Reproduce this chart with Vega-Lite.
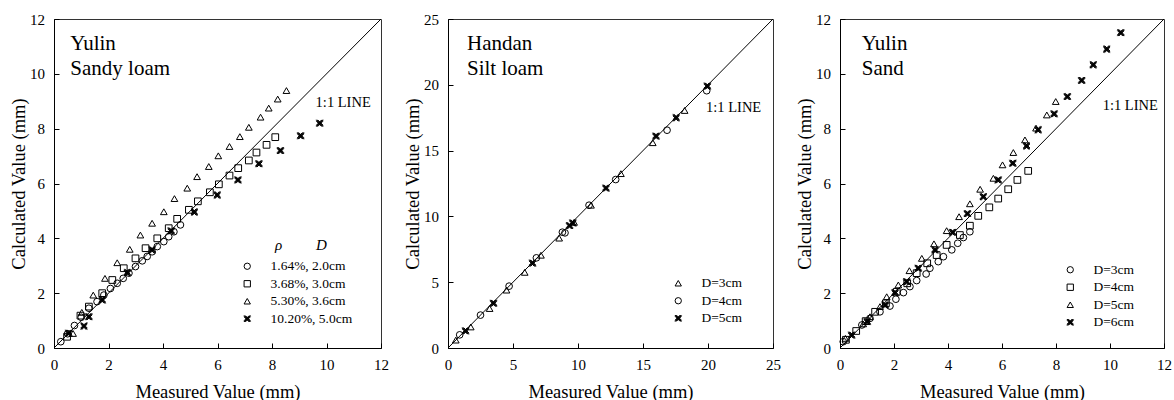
{
  "$schema": "https://vega.github.io/schema/vega-lite/v6.json",
  "padding": {"left": 9, "top": 11, "right": 3, "bottom": 2},
  "background": "white",
  "datasets": {
    "p1": [
      {"series": "1.64%, 2.0cm", "measured": 0.25, "calculated": 0.23},
      {"series": "1.64%, 2.0cm", "measured": 0.5, "calculated": 0.52},
      {"series": "1.64%, 2.0cm", "measured": 0.75, "calculated": 0.82},
      {"series": "1.64%, 2.0cm", "measured": 1.0, "calculated": 1.12},
      {"series": "1.64%, 2.0cm", "measured": 1.28, "calculated": 1.45},
      {"series": "1.64%, 2.0cm", "measured": 1.58, "calculated": 1.69},
      {"series": "1.64%, 2.0cm", "measured": 1.83, "calculated": 1.93},
      {"series": "1.64%, 2.0cm", "measured": 2.07, "calculated": 2.17},
      {"series": "1.64%, 2.0cm", "measured": 2.32, "calculated": 2.36},
      {"series": "1.64%, 2.0cm", "measured": 2.54, "calculated": 2.54},
      {"series": "1.64%, 2.0cm", "measured": 2.75, "calculated": 2.73},
      {"series": "1.64%, 2.0cm", "measured": 2.99, "calculated": 2.97},
      {"series": "1.64%, 2.0cm", "measured": 3.24, "calculated": 3.18},
      {"series": "1.64%, 2.0cm", "measured": 3.42, "calculated": 3.34},
      {"series": "1.64%, 2.0cm", "measured": 3.6, "calculated": 3.51},
      {"series": "1.64%, 2.0cm", "measured": 3.79, "calculated": 3.7},
      {"series": "1.64%, 2.0cm", "measured": 4.03, "calculated": 3.88},
      {"series": "1.64%, 2.0cm", "measured": 4.21, "calculated": 4.06},
      {"series": "1.64%, 2.0cm", "measured": 4.4, "calculated": 4.24},
      {"series": "1.64%, 2.0cm", "measured": 4.64, "calculated": 4.49},
      {"series": "3.68%, 3.0cm", "measured": 0.48, "calculated": 0.41},
      {"series": "3.68%, 3.0cm", "measured": 0.97, "calculated": 1.18},
      {"series": "3.68%, 3.0cm", "measured": 1.28, "calculated": 1.51},
      {"series": "3.68%, 3.0cm", "measured": 1.77, "calculated": 2.0},
      {"series": "3.68%, 3.0cm", "measured": 2.14, "calculated": 2.48},
      {"series": "3.68%, 3.0cm", "measured": 2.56, "calculated": 2.91},
      {"series": "3.68%, 3.0cm", "measured": 2.99, "calculated": 3.27},
      {"series": "3.68%, 3.0cm", "measured": 3.36, "calculated": 3.64},
      {"series": "3.68%, 3.0cm", "measured": 3.79, "calculated": 4.0},
      {"series": "3.68%, 3.0cm", "measured": 4.21, "calculated": 4.37},
      {"series": "3.68%, 3.0cm", "measured": 4.52, "calculated": 4.71},
      {"series": "3.68%, 3.0cm", "measured": 4.95, "calculated": 5.04},
      {"series": "3.68%, 3.0cm", "measured": 5.28, "calculated": 5.35},
      {"series": "3.68%, 3.0cm", "measured": 5.72, "calculated": 5.68},
      {"series": "3.68%, 3.0cm", "measured": 6.05, "calculated": 5.97},
      {"series": "3.68%, 3.0cm", "measured": 6.44, "calculated": 6.29},
      {"series": "3.68%, 3.0cm", "measured": 6.76, "calculated": 6.56},
      {"series": "3.68%, 3.0cm", "measured": 7.15, "calculated": 6.84},
      {"series": "3.68%, 3.0cm", "measured": 7.43, "calculated": 7.13},
      {"series": "3.68%, 3.0cm", "measured": 7.8, "calculated": 7.41},
      {"series": "3.68%, 3.0cm", "measured": 8.12, "calculated": 7.69},
      {"series": "5.30%, 3.6cm", "measured": 0.7, "calculated": 0.53},
      {"series": "5.30%, 3.6cm", "measured": 1.02, "calculated": 1.3},
      {"series": "5.30%, 3.6cm", "measured": 1.44, "calculated": 1.93},
      {"series": "5.30%, 3.6cm", "measured": 1.87, "calculated": 2.54},
      {"series": "5.30%, 3.6cm", "measured": 2.32, "calculated": 3.11},
      {"series": "5.30%, 3.6cm", "measured": 2.78, "calculated": 3.6},
      {"series": "5.30%, 3.6cm", "measured": 3.17, "calculated": 4.12},
      {"series": "5.30%, 3.6cm", "measured": 3.6, "calculated": 4.55},
      {"series": "5.30%, 3.6cm", "measured": 4.03, "calculated": 4.97},
      {"series": "5.30%, 3.6cm", "measured": 4.42, "calculated": 5.45},
      {"series": "5.30%, 3.6cm", "measured": 4.89, "calculated": 5.83},
      {"series": "5.30%, 3.6cm", "measured": 5.25, "calculated": 6.25},
      {"series": "5.30%, 3.6cm", "measured": 5.68, "calculated": 6.62},
      {"series": "5.30%, 3.6cm", "measured": 6.03, "calculated": 7.01},
      {"series": "5.30%, 3.6cm", "measured": 6.44, "calculated": 7.35},
      {"series": "5.30%, 3.6cm", "measured": 6.82, "calculated": 7.71},
      {"series": "5.30%, 3.6cm", "measured": 7.15, "calculated": 8.05},
      {"series": "5.30%, 3.6cm", "measured": 7.58, "calculated": 8.42},
      {"series": "5.30%, 3.6cm", "measured": 7.88, "calculated": 8.75},
      {"series": "5.30%, 3.6cm", "measured": 8.21, "calculated": 9.08},
      {"series": "5.30%, 3.6cm", "measured": 8.53, "calculated": 9.39},
      {"series": "10.20%, 5.0cm", "measured": 0.54, "calculated": 0.54},
      {"series": "10.20%, 5.0cm", "measured": 1.1, "calculated": 0.8},
      {"series": "10.20%, 5.0cm", "measured": 1.28, "calculated": 1.14},
      {"series": "10.20%, 5.0cm", "measured": 1.77, "calculated": 1.75},
      {"series": "10.20%, 5.0cm", "measured": 2.69, "calculated": 2.75},
      {"series": "10.20%, 5.0cm", "measured": 3.6, "calculated": 3.58},
      {"series": "10.20%, 5.0cm", "measured": 4.3, "calculated": 4.27},
      {"series": "10.20%, 5.0cm", "measured": 5.15, "calculated": 4.96},
      {"series": "10.20%, 5.0cm", "measured": 5.99, "calculated": 5.58},
      {"series": "10.20%, 5.0cm", "measured": 6.75, "calculated": 6.13},
      {"series": "10.20%, 5.0cm", "measured": 7.52, "calculated": 6.72},
      {"series": "10.20%, 5.0cm", "measured": 8.31, "calculated": 7.2},
      {"series": "10.20%, 5.0cm", "measured": 9.05, "calculated": 7.74},
      {"series": "10.20%, 5.0cm", "measured": 9.75, "calculated": 8.2}
    ],
    "p2": [
      {"series": "D=3cm", "measured": 0.6, "calculated": 0.6},
      {"series": "D=3cm", "measured": 1.75, "calculated": 1.6},
      {"series": "D=3cm", "measured": 3.2, "calculated": 3.0},
      {"series": "D=3cm", "measured": 4.5, "calculated": 4.4},
      {"series": "D=3cm", "measured": 5.9, "calculated": 5.75},
      {"series": "D=3cm", "measured": 7.15, "calculated": 7.05},
      {"series": "D=3cm", "measured": 8.55, "calculated": 8.35},
      {"series": "D=3cm", "measured": 9.7, "calculated": 9.55},
      {"series": "D=3cm", "measured": 11.0, "calculated": 10.85},
      {"series": "D=3cm", "measured": 13.3, "calculated": 13.25},
      {"series": "D=3cm", "measured": 15.75, "calculated": 15.6},
      {"series": "D=3cm", "measured": 18.2, "calculated": 18.05},
      {"series": "D=4cm", "measured": 0.9, "calculated": 1.0},
      {"series": "D=4cm", "measured": 2.5, "calculated": 2.5},
      {"series": "D=4cm", "measured": 4.7, "calculated": 4.7},
      {"series": "D=4cm", "measured": 6.8, "calculated": 6.85},
      {"series": "D=4cm", "measured": 8.8, "calculated": 8.8},
      {"series": "D=4cm", "measured": 9.0, "calculated": 8.75},
      {"series": "D=4cm", "measured": 10.85, "calculated": 10.85},
      {"series": "D=4cm", "measured": 12.9, "calculated": 12.8},
      {"series": "D=4cm", "measured": 16.85, "calculated": 16.55},
      {"series": "D=4cm", "measured": 19.9, "calculated": 19.55},
      {"series": "D=5cm", "measured": 1.35, "calculated": 1.3},
      {"series": "D=5cm", "measured": 3.5, "calculated": 3.4},
      {"series": "D=5cm", "measured": 6.5, "calculated": 6.45},
      {"series": "D=5cm", "measured": 9.35, "calculated": 9.3},
      {"series": "D=5cm", "measured": 9.6, "calculated": 9.5},
      {"series": "D=5cm", "measured": 12.15, "calculated": 12.15},
      {"series": "D=5cm", "measured": 16.0, "calculated": 16.1},
      {"series": "D=5cm", "measured": 17.55, "calculated": 17.5},
      {"series": "D=5cm", "measured": 19.95, "calculated": 19.9}
    ],
    "p3": [
      {"series": "D=3cm", "measured": 0.12, "calculated": 0.23},
      {"series": "D=3cm", "measured": 0.81, "calculated": 0.84},
      {"series": "D=3cm", "measured": 1.11, "calculated": 1.08},
      {"series": "D=3cm", "measured": 1.48, "calculated": 1.32},
      {"series": "D=3cm", "measured": 1.85, "calculated": 1.53},
      {"series": "D=3cm", "measured": 2.07, "calculated": 1.78},
      {"series": "D=3cm", "measured": 2.35, "calculated": 2.02},
      {"series": "D=3cm", "measured": 2.59, "calculated": 2.24},
      {"series": "D=3cm", "measured": 2.84, "calculated": 2.46},
      {"series": "D=3cm", "measured": 3.19, "calculated": 2.7},
      {"series": "D=3cm", "measured": 3.33, "calculated": 2.91},
      {"series": "D=3cm", "measured": 3.64, "calculated": 3.15},
      {"series": "D=3cm", "measured": 3.83, "calculated": 3.33},
      {"series": "D=3cm", "measured": 4.14, "calculated": 3.58},
      {"series": "D=3cm", "measured": 4.36, "calculated": 3.82},
      {"series": "D=3cm", "measured": 4.57, "calculated": 4.03},
      {"series": "D=3cm", "measured": 4.81, "calculated": 4.24},
      {"series": "D=4cm", "measured": 0.22, "calculated": 0.3},
      {"series": "D=4cm", "measured": 0.6, "calculated": 0.62},
      {"series": "D=4cm", "measured": 0.95, "calculated": 0.98},
      {"series": "D=4cm", "measured": 1.3, "calculated": 1.32},
      {"series": "D=4cm", "measured": 1.7, "calculated": 1.63},
      {"series": "D=4cm", "measured": 2.1, "calculated": 2.05},
      {"series": "D=4cm", "measured": 2.49, "calculated": 2.36},
      {"series": "D=4cm", "measured": 2.84, "calculated": 2.73},
      {"series": "D=4cm", "measured": 3.23, "calculated": 3.09},
      {"series": "D=4cm", "measured": 3.58, "calculated": 3.39},
      {"series": "D=4cm", "measured": 3.95, "calculated": 3.76},
      {"series": "D=4cm", "measured": 4.44, "calculated": 4.12},
      {"series": "D=4cm", "measured": 4.81, "calculated": 4.46},
      {"series": "D=4cm", "measured": 5.12, "calculated": 4.82},
      {"series": "D=4cm", "measured": 5.53, "calculated": 5.13},
      {"series": "D=4cm", "measured": 5.86, "calculated": 5.45},
      {"series": "D=4cm", "measured": 6.23, "calculated": 5.79},
      {"series": "D=4cm", "measured": 6.57, "calculated": 6.13},
      {"series": "D=4cm", "measured": 6.97, "calculated": 6.46},
      {"series": "D=5cm", "measured": 0.2, "calculated": 0.35},
      {"series": "D=5cm", "measured": 0.86, "calculated": 0.88},
      {"series": "D=5cm", "measured": 1.11, "calculated": 1.14},
      {"series": "D=5cm", "measured": 1.48, "calculated": 1.51},
      {"series": "D=5cm", "measured": 1.73, "calculated": 1.87},
      {"series": "D=5cm", "measured": 2.16, "calculated": 2.3},
      {"series": "D=5cm", "measured": 2.57, "calculated": 2.82},
      {"series": "D=5cm", "measured": 3.03, "calculated": 3.27},
      {"series": "D=5cm", "measured": 3.48, "calculated": 3.8},
      {"series": "D=5cm", "measured": 3.95, "calculated": 4.28},
      {"series": "D=5cm", "measured": 4.41, "calculated": 4.79},
      {"series": "D=5cm", "measured": 4.81, "calculated": 5.26},
      {"series": "D=5cm", "measured": 5.19, "calculated": 5.79},
      {"series": "D=5cm", "measured": 5.68, "calculated": 6.19},
      {"series": "D=5cm", "measured": 6.02, "calculated": 6.68},
      {"series": "D=5cm", "measured": 6.42, "calculated": 7.13},
      {"series": "D=5cm", "measured": 6.85, "calculated": 7.59},
      {"series": "D=5cm", "measured": 7.26, "calculated": 8.02},
      {"series": "D=5cm", "measured": 7.66, "calculated": 8.5},
      {"series": "D=5cm", "measured": 7.99, "calculated": 8.99},
      {"series": "D=6cm", "measured": 0.43, "calculated": 0.47},
      {"series": "D=6cm", "measured": 1.01, "calculated": 0.96},
      {"series": "D=6cm", "measured": 1.67, "calculated": 1.57},
      {"series": "D=6cm", "measured": 2.04, "calculated": 2.02},
      {"series": "D=6cm", "measured": 2.47, "calculated": 2.42},
      {"series": "D=6cm", "measured": 2.9, "calculated": 2.91},
      {"series": "D=6cm", "measured": 3.52, "calculated": 3.58},
      {"series": "D=6cm", "measured": 4.17, "calculated": 4.22},
      {"series": "D=6cm", "measured": 4.72, "calculated": 4.9},
      {"series": "D=6cm", "measured": 5.31, "calculated": 5.52},
      {"series": "D=6cm", "measured": 5.86, "calculated": 6.13},
      {"series": "D=6cm", "measured": 6.4, "calculated": 6.74},
      {"series": "D=6cm", "measured": 6.91, "calculated": 7.37},
      {"series": "D=6cm", "measured": 7.34, "calculated": 7.96},
      {"series": "D=6cm", "measured": 7.93, "calculated": 8.54},
      {"series": "D=6cm", "measured": 8.42, "calculated": 9.17},
      {"series": "D=6cm", "measured": 8.95, "calculated": 9.76},
      {"series": "D=6cm", "measured": 9.38, "calculated": 10.33},
      {"series": "D=6cm", "measured": 9.88, "calculated": 10.9},
      {"series": "D=6cm", "measured": 10.4, "calculated": 11.5}
    ]
  },
  "hconcat": [
    {
      "width": 327,
      "height": 329,
      "layer": [
        {
          "data": {"values": [{}]},
          "mark": {"type": "rule", "color": "black", "strokeWidth": 1},
          "encoding": {
            "x": {"datum": 0, "type": "quantitative"},
            "y": {"datum": 0, "type": "quantitative"},
            "x2": {"datum": 12},
            "y2": {"datum": 12}
          }
        },
        {
          "data": {"name": "p1"},
          "mark": {"type": "point", "filled": false, "color": "black", "strokeWidth": 1, "size": 45, "opacity": 1},
          "encoding": {
            "x": {"field": "measured", "type": "quantitative", "scale": {"domain": [0, 12], "nice": false}, "axis": {"title": "Measured Value (mm)", "values": [0, 2, 4, 6, 8, 10, 12]}},
            "y": {"field": "calculated", "type": "quantitative", "scale": {"domain": [0, 12], "nice": false}, "axis": {"title": "Calculated Value (mm)", "values": [0, 2, 4, 6, 8, 10, 12]}},
            "shape": {
              "field": "series", "type": "nominal",
              "scale": {"domain": ["1.64%, 2.0cm", "3.68%, 3.0cm", "5.30%, 3.6cm", "10.20%, 5.0cm"], "range": ["circle", "square", "triangle-up", "M-1,-1L1,1M-1,1L1,-1M-0.8,-1L1,0.8M-1,-0.8L0.8,1M-1,0.8L0.8,-1M-0.8,1L1,-0.8M-0.6,-1L1,0.6M-1,-0.6L0.6,1M-1,0.6L0.6,-1M-0.6,1L1,-0.6"]},
              "legend": {"orient": "none", "legendX": 186.5, "legendY": 240.5, "title": null, "labelOffset": 16.5}
            }
          }
        },
        {
          "data": {"values": [{}]},
          "mark": {"type": "text", "align": "left", "baseline": "middle", "fontSize": 15, "fontStyle": "italic"},
          "encoding": {"x": {"datum": 8.11}, "y": {"datum": 3.76}, "text": {"value": "ρ\u00a0\u00a0\u00a0\u00a0\u00a0\u00a0\u00a0\u00a0\u00a0D"}}
        },
        {
          "data": {"values": [{}]},
          "mark": {"type": "text", "align": "left", "baseline": "middle", "fontSize": 14.5},
          "encoding": {"x": {"datum": 9.6}, "y": {"datum": 8.95}, "text": {"value": "1:1 LINE"}}
        },
        {
          "data": {"values": [{}]},
          "mark": {"type": "text", "align": "left", "baseline": "alphabetic", "fontSize": 21, "lineHeight": 25},
          "encoding": {"x": {"datum": 0.6}, "y": {"datum": 10.88}, "text": {"value": ["Yulin", "Sandy loam"]}}
        }
      ]
    },
    {
      "width": 325,
      "height": 329,
      "layer": [
        {
          "data": {"values": [{}]},
          "mark": {"type": "rule", "color": "black", "strokeWidth": 1},
          "encoding": {
            "x": {"datum": 0, "type": "quantitative"},
            "y": {"datum": 0, "type": "quantitative"},
            "x2": {"datum": 25},
            "y2": {"datum": 25}
          }
        },
        {
          "data": {"name": "p2"},
          "mark": {"type": "point", "filled": false, "color": "black", "strokeWidth": 1, "size": 45, "opacity": 1},
          "encoding": {
            "x": {"field": "measured", "type": "quantitative", "scale": {"domain": [0, 25], "nice": false}, "axis": {"title": "Measured Value (mm)", "values": [0, 5, 10, 15, 20, 25]}},
            "y": {"field": "calculated", "type": "quantitative", "scale": {"domain": [0, 25], "nice": false}, "axis": {"title": "Calculated Value (mm)", "values": [0, 5, 10, 15, 20, 25]}},
            "shape": {
              "field": "series", "type": "nominal",
              "scale": {"domain": ["D=3cm", "D=4cm", "D=5cm"], "range": ["triangle-up", "circle", "M-1,-1L1,1M-1,1L1,-1M-0.8,-1L1,0.8M-1,-0.8L0.8,1M-1,0.8L0.8,-1M-0.8,1L1,-0.8M-0.6,-1L1,0.6M-1,-0.6L0.6,1M-1,0.6L0.6,-1M-0.6,1L1,-0.6"]},
              "legend": {"orient": "none", "legendX": 223.5, "legendY": 257.5, "title": null, "labelOffset": 16.5}
            }
          }
        },
        {
          "data": {"values": [{}]},
          "mark": {"type": "text", "align": "left", "baseline": "middle", "fontSize": 14.5},
          "encoding": {"x": {"datum": 19.85}, "y": {"datum": 18.2}, "text": {"value": "1:1 LINE"}}
        },
        {
          "data": {"values": [{}]},
          "mark": {"type": "text", "align": "left", "baseline": "alphabetic", "fontSize": 21, "lineHeight": 25},
          "encoding": {"x": {"datum": 1.46}, "y": {"datum": 22.64}, "text": {"value": ["Handan", "Silt loam"]}}
        }
      ]
    },
    {
      "width": 324,
      "height": 329,
      "layer": [
        {
          "data": {"values": [{}]},
          "mark": {"type": "rule", "color": "black", "strokeWidth": 1},
          "encoding": {
            "x": {"datum": 0, "type": "quantitative"},
            "y": {"datum": 0, "type": "quantitative"},
            "x2": {"datum": 12},
            "y2": {"datum": 12}
          }
        },
        {
          "data": {"name": "p3"},
          "mark": {"type": "point", "filled": false, "color": "black", "strokeWidth": 1, "size": 45, "opacity": 1},
          "encoding": {
            "x": {"field": "measured", "type": "quantitative", "scale": {"domain": [0, 12], "nice": false}, "axis": {"title": "Measured Value (mm)", "values": [0, 2, 4, 6, 8, 10, 12]}},
            "y": {"field": "calculated", "type": "quantitative", "scale": {"domain": [0, 12], "nice": false}, "axis": {"title": "Calculated Value (mm)", "values": [0, 2, 4, 6, 8, 10, 12]}},
            "shape": {
              "field": "series", "type": "nominal",
              "scale": {"domain": ["D=3cm", "D=4cm", "D=5cm", "D=6cm"], "range": ["circle", "square", "triangle-up", "M-1,-1L1,1M-1,1L1,-1M-0.8,-1L1,0.8M-1,-0.8L0.8,1M-1,0.8L0.8,-1M-0.8,1L1,-0.8M-0.6,-1L1,0.6M-1,-0.6L0.6,1M-1,0.6L0.6,-1M-0.6,1L1,-0.6"]},
              "legend": {"orient": "none", "legendX": 223.5, "legendY": 244, "title": null, "labelOffset": 16.5}
            }
          }
        },
        {
          "data": {"values": [{}]},
          "mark": {"type": "text", "align": "left", "baseline": "middle", "fontSize": 14.5},
          "encoding": {"x": {"datum": 9.73}, "y": {"datum": 8.83}, "text": {"value": "1:1 LINE"}}
        },
        {
          "data": {"values": [{}]},
          "mark": {"type": "text", "align": "left", "baseline": "alphabetic", "fontSize": 21, "lineHeight": 25},
          "encoding": {"x": {"datum": 0.81}, "y": {"datum": 10.88}, "text": {"value": ["Yulin", "Sand"]}}
        }
      ]
    }
  ],
  "spacing": 67,
  "bounds": "flush",
  "resolve": {
    "scale": {"x": "independent", "y": "independent", "shape": "independent"},
    "legend": {"shape": "independent"}
  },
  "config": {
    "font": "Liberation Serif",
    "view": {"stroke": "#333", "strokeWidth": 1},
    "axis": {
      "grid": false,
      "domainColor": "black",
      "domainWidth": 1,
      "tickColor": "black",
      "tickSize": -5,
      "tickWidth": 1,
      "labelFont": "Liberation Serif",
      "labelFontSize": 15,
      "labelColor": "black",
      "titleFont": "Liberation Serif",
      "titleFontSize": 18.5,
      "titleFontWeight": "normal",
      "titleColor": "black",
      "labelFlush": false,
      "labelOverlap": false
    },
    "axisX": {"labelPadding": 14, "titlePadding": 10},
    "axisY": {"labelPadding": 14.5, "titlePadding": 1},
    "legend": {
      "labelFont": "Liberation Serif",
      "labelFontSize": 13.5,
      "labelColor": "black",
      "titleFont": "Liberation Serif",
      "titleColor": "black",
      "symbolStrokeColor": "black",
      "symbolStrokeWidth": 1,
      "symbolSize": 40,
      "rowPadding": 2.5,
      "padding": 0
    },
    "text": {"font": "Liberation Serif", "color": "black"}
  }
}
